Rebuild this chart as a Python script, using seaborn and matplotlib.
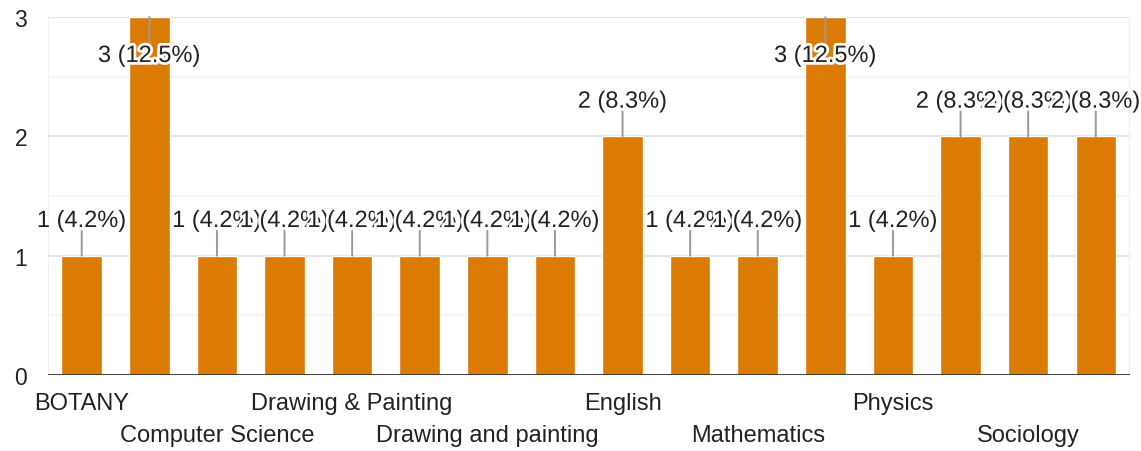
import matplotlib
matplotlib.use("Agg")
import matplotlib.pyplot as plt
import matplotlib.patheffects as pe
import seaborn as sns
import pandas as pd

# categories in the order shown (only every other one gets a visible label)
subjects = ['BOTANY', 'Chemistry', 'Computer Science', 'Computer science',
            'Drawing & Painting', 'Drawing and Painting', 'Drawing and painting', 'Economics',
            'English', 'History', 'Mathematics', 'Maths',
            'Physics', 'Political Science', 'Sociology', 'Zoology']
counts = [1, 3, 1, 1, 1, 1, 1, 1, 2, 1, 1, 3, 1, 2, 2, 2]

df = pd.DataFrame({'subject': subjects, 'count': counts})
total = sum(counts)

sns.set_style('white')
plt.rcParams['font.family'] = ['Liberation Sans', 'DejaVu Sans']

fig = plt.figure(figsize=(11.41, 4.52), dpi=100)
ax = fig.add_axes([0.042, 0.168, 0.948, 0.792])

bar_color = '#dc7b04'
sns.barplot(data=df, x='subject', y='count', color=bar_color, width=0.6,
            saturation=1, ax=ax, zorder=3)

ax.set_xlim(-0.5, len(subjects) - 0.5)
ax.set_ylim(0, 3)
ax.set_yticks([0, 1, 2, 3])
ax.set_yticks([0.5, 1.5, 2.5], minor=True)
ax.grid(axis='y', which='major', color='#e4e4e4', lw=1.5, zorder=0)
ax.grid(axis='y', which='minor', color='#f3f3f3', lw=1.2, zorder=0)
for s in ax.spines.values():
    s.set_visible(False)
ax.axvline(-0.5, color='#eeeeee', lw=1.2, zorder=0)
ax.axvline(len(subjects) - 0.5, color='#eeeeee', lw=1.2, zorder=0)
ax.axhline(0, color='#333333', lw=2, zorder=4)

ax.tick_params(axis='y', length=0, pad=15, labelsize=16.5, labelcolor='#222222')
ax.set_xticks([])
ax.set_xlabel('')
ax.set_ylabel('')

# staggered category labels, every other bar
for i, name in enumerate(subjects):
    if i % 2:
        continue
    off = -20 if (i // 2) % 2 == 0 else -43
    ax.annotate(name, xy=(i, 0), xytext=(0, off), textcoords='offset points',
                ha='center', va='center', fontsize=17, color='#222222',
                annotation_clip=False)

# value labels with stems
halo = [pe.withStroke(linewidth=4, foreground='white')]
for i, c in enumerate(counts):
    label = f"{c} ({c / total * 100:.1f}%)"
    if c >= 3:
        stem_end, txt_off = -18, -28
    else:
        stem_end, txt_off = 18, 25
    ax.annotate('', xy=(i, c), xytext=(0, stem_end), textcoords='offset points',
                arrowprops=dict(arrowstyle='-', color='#999999', lw=1.4,
                                shrinkA=0, shrinkB=0),
                zorder=5, annotation_clip=False)
    ax.annotate(label, xy=(i, c), xytext=(0, txt_off), textcoords='offset points',
                ha='center', va='center', fontsize=17, color='#222222',
                path_effects=halo, zorder=6, annotation_clip=False)

fig.savefig('out.png', dpi=100)
